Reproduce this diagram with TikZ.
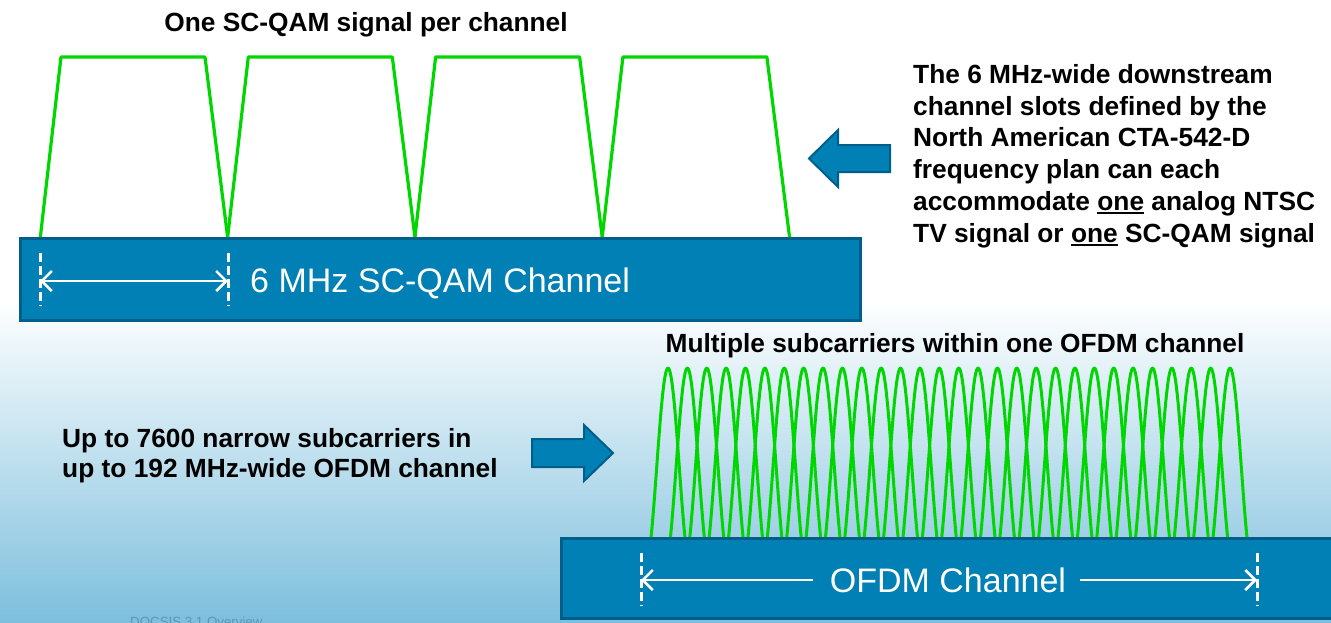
\documentclass[tikz,border=0pt]{standalone}
\usepackage{fontspec}
\setmainfont{Liberation Sans}
\usetikzlibrary{arrows.meta}

\definecolor{sigGreen}{RGB}{0,214,0}
\definecolor{barFill}{RGB}{0,128,181}
\definecolor{barEdge}{RGB}{0,94,138}
\definecolor{bgBlue}{RGB}{125,191,221}
\definecolor{footGray}{RGB}{95,150,182}

\newcommand{\undl}[1]{\setbox0=\hbox{#1}\rlap{\rule[-3.5pt]{\wd0}{2pt}}\box0\relax}

\tikzset{
  chanbar/.style={fill=barFill,draw=barEdge,line width=3pt},
  blockarrow/.style={fill=barFill,draw=barEdge,line width=2pt,line join=miter},
  sig/.style={draw=sigGreen,line width=3.2pt,line join=round},
  dimline/.style={white,line width=3pt,dash pattern=on 9pt off 4pt},
  dimarrow/.style={white,line width=2.5pt,-{Straight Barb[length=10pt,width=20pt]}},
  dimboth/.style={white,line width=2.5pt,{Straight Barb[length=10pt,width=20pt]}-{Straight Barb[length=10pt,width=20pt]}},
  headtext/.style={font=\bfseries\fontsize{26.3}{31}\selectfont,inner sep=0pt},
  bartext/.style={text=white,font=\fontsize{34}{34}\selectfont,inner sep=0pt},
}

\begin{document}
\begin{tikzpicture}[x=1pt,y=-1pt]
\useasboundingbox (0,0) rectangle (1331,622);
\fill[white] (0,0) rectangle (1331,300);
\shade[top color=white,bottom color=bgBlue] (0,300) rectangle (1331,622);

\foreach \b in {40,227.3,414.6,601.9}
  \draw[sig] (\b,240) -- (\b+21,57) -- (\b+165,57) -- (\b+188,240);
\node[headtext,anchor=base] (qamtitle) at (366,31) {One SC-QAM signal per channel};

\draw[chanbar] (20,238) rectangle (860,320);
\coordinate (qa) at (40,281);
\coordinate (qb) at (228,281);
\draw[dimline] ([yshift=28pt]qa) -- ([yshift=-25pt]qa);
\draw[dimline] ([yshift=28pt]qb) -- ([yshift=-25pt]qb);
\draw[dimboth] (qa) -- (qb);
\node[bartext,anchor=base west] (qamlabel) at (250,292) {6 MHz SC-QAM Channel};

\draw[blockarrow] (890,145) -- (838,145) -- (838,130) -- (809,158.5) -- (838,187) -- (838,172) -- (890,172) -- cycle;
\node[headtext,font=\bfseries\fontsize{26.3}{31.8}\selectfont,align=left,anchor=north west] (plantext) at (913,64)
  {The 6 MHz-wide downstream\\channel slots defined by the\\North American CTA-542-D\\frequency plan can each\\accommodate \undl{one} analog NTSC\\TV signal or \undl{one} SC-QAM signal};

\node[headtext,anchor=base] (ofdmtitle) at (955,352) {Multiple subcarriers within one OFDM channel};
\foreach \k in {0,...,29}
  \draw[sig,line width=3pt] plot[domain=-1:1,samples=40,smooth] ({668+19.38*\k+17*\x},{538-170*sin(180*\x)/(3.14159*\x)});

\node[headtext,font=\bfseries\fontsize{26.3}{30}\selectfont,align=left,anchor=north west] (ofdmtext) at (62,428)
  {Up to 7600 narrow subcarriers in\\up to 192 MHz-wide OFDM channel};
\draw[blockarrow] (532,439) -- (584,439) -- (584,425) -- (613,453) -- (584,481) -- (584,467) -- (532,467) -- cycle;

\draw[chanbar] (561,538) rectangle (1345,618);
\coordinate (oa) at (641,580);
\coordinate (ob) at (1257,580);
\draw[dimline] ([yshift=27pt]oa) -- ([yshift=-26pt]oa);
\draw[dimline] ([yshift=27pt]ob) -- ([yshift=-26pt]ob);
\node[bartext,anchor=base] (ofdmlabel) at (948,592) {OFDM Channel};
\draw[dimarrow,shorten <=17pt] (ofdmlabel.west |- oa) -- (oa);
\draw[dimarrow,shorten <=14pt] (ofdmlabel.east |- ob) -- (ob);

\node[font=\fontsize{13.3}{14}\selectfont,text=footGray,anchor=base west,inner sep=0pt] (footer) at (130,626) {DOCSIS 3.1 Overview};
\end{tikzpicture}
\end{document}
